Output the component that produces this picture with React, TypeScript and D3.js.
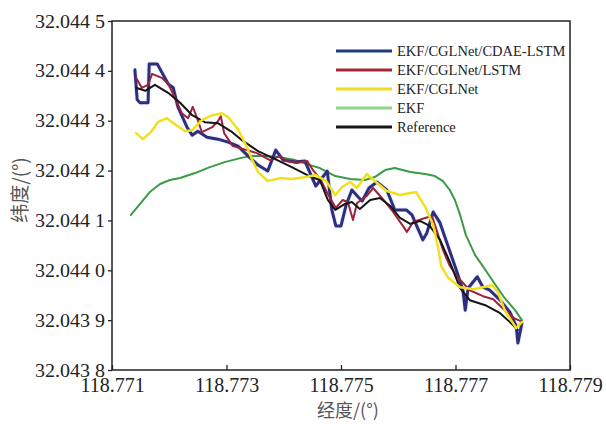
import React, { useRef, useEffect } from "react";
import * as d3 from "d3";

const W = 606;
const H = 424;
const margin = { top: 21, right: 36, bottom: 54, left: 112 };

const xTicks = [118.771, 118.773, 118.775, 118.777, 118.779];
const yTicks = [32.0438, 32.0439, 32.044, 32.0441, 32.0442, 32.0443, 32.0444, 32.0445];
const yTickLabels = ["32.043 8", "32.043 9", "32.044 0", "32.044 1", "32.044 2", "32.044 3", "32.044 4", "32.044 5"];

const seriesNames = ["EKF/CGLNet/CDAE-LSTM", "EKF/CGLNet/LSTM", "EKF/CGLNet", "EKF", "Reference"];

// EKF/CGLNet/CDAE-LSTM
const cdaeLon = [118.7714, 118.77144, 118.77149, 118.77163, 118.77165, 118.77179, 118.77198, 118.77207, 118.77215, 118.77231, 118.7724, 118.7725, 118.77266, 118.77285, 118.77303, 118.7732, 118.77338, 118.77355, 118.77372, 118.77386, 118.77399, 118.7742, 118.77437, 118.77456, 118.77476, 118.77484, 118.77491, 118.775, 118.77509, 118.77519, 118.7753, 118.77537, 118.77549, 118.77563, 118.7758, 118.77594, 118.77614, 118.77624, 118.77633, 118.77643, 118.7765, 118.77661, 118.77673, 118.77685, 118.77703, 118.77713, 118.77717, 118.77722, 118.77738, 118.77748, 118.7776, 118.77778, 118.77795, 118.77806, 118.77809, 118.77816];
const cdaeLat = [32.044402, 32.044342, 32.044336, 32.044336, 32.044414, 32.044414, 32.044374, 32.044366, 32.044328, 32.044287, 32.044271, 32.044279, 32.044267, 32.044263, 32.044257, 32.044249, 32.044229, 32.044211, 32.044199, 32.044241, 32.044221, 32.044217, 32.044219, 32.044169, 32.044199, 32.044121, 32.044089, 32.044089, 32.044131, 32.044161, 32.044147, 32.044139, 32.044165, 32.044177, 32.044161, 32.044121, 32.044121, 32.044111, 32.044087, 32.044061, 32.044075, 32.044117, 32.044095, 32.044055, 32.043995, 32.04396, 32.04392, 32.043964, 32.043987, 32.043966, 32.04396, 32.04394, 32.043916, 32.043888, 32.043854, 32.043894];

// EKF/CGLNet/LSTM
const lstmLon = [118.77142, 118.77152, 118.77163, 118.7717, 118.77187, 118.77198, 118.7721, 118.77222, 118.77233, 118.77241, 118.77248, 118.77257, 118.77275, 118.77285, 118.7729, 118.77296, 118.77311, 118.77336, 118.77353, 118.77376, 118.77393, 118.77406, 118.77423, 118.77441, 118.77451, 118.77463, 118.77477, 118.77491, 118.77503, 118.77512, 118.77521, 118.77528, 118.77545, 118.77556, 118.77573, 118.77591, 118.77608, 118.77615, 118.77626, 118.77647, 118.77659, 118.77668, 118.77678, 118.7769, 118.77703, 118.77725, 118.77748, 118.77766, 118.77786, 118.77802, 118.77814];
const lstmLat = [32.044386, 32.044366, 32.044372, 32.044394, 32.044386, 32.044374, 32.044346, 32.044315, 32.044305, 32.044328, 32.044307, 32.044277, 32.044287, 32.044299, 32.044309, 32.044275, 32.044249, 32.044241, 32.044235, 32.044221, 32.044229, 32.044219, 32.044215, 32.044219, 32.044201, 32.044185, 32.044153, 32.044125, 32.044141, 32.044137, 32.044101, 32.044135, 32.044149, 32.044165, 32.044143, 32.044117, 32.044089, 32.044077, 32.044097, 32.044105, 32.044109, 32.044077, 32.044041, 32.044009, 32.043987, 32.04396, 32.043948, 32.043942, 32.04392, 32.043904, 32.043898];

// EKF/CGLNet
const cglLon = [118.77142, 118.77154, 118.77168, 118.7718, 118.77196, 118.77212, 118.77228, 118.7724, 118.77257, 118.77275, 118.77292, 118.77303, 118.7732, 118.77334, 118.77345, 118.77355, 118.77372, 118.77395, 118.77414, 118.77439, 118.77456, 118.77474, 118.7749, 118.77502, 118.77516, 118.77528, 118.77545, 118.77561, 118.7758, 118.77603, 118.77631, 118.77648, 118.77661, 118.77669, 118.77675, 118.77687, 118.77708, 118.77732, 118.77764, 118.77774, 118.77786, 118.77806, 118.77816];
const cglLat = [32.044275, 32.044263, 32.044277, 32.044297, 32.044305, 32.044291, 32.044279, 32.044281, 32.044301, 32.044311, 32.044315, 32.044307, 32.044283, 32.044251, 32.044221, 32.044197, 32.044179, 32.044185, 32.044183, 32.044187, 32.044191, 32.044179, 32.044151, 32.044167, 32.044177, 32.044165, 32.044193, 32.044177, 32.044159, 32.044151, 32.044157, 32.044125, 32.044091, 32.044049, 32.044009, 32.043985, 32.043966, 32.043962, 32.04397, 32.043956, 32.04392, 32.043884, 32.043896];

// EKF
const ekfLon = [118.77133, 118.77149, 118.77166, 118.77184, 118.77201, 118.77219, 118.77245, 118.77271, 118.77297, 118.77324, 118.77341, 118.77367, 118.77393, 118.7742, 118.77446, 118.77463, 118.7749, 118.77516, 118.77542, 118.77559, 118.77577, 118.77594, 118.77621, 118.77647, 118.77664, 118.77678, 118.7769, 118.77699, 118.77708, 118.77718, 118.77734, 118.77752, 118.77769, 118.77786, 118.77804, 118.77816];
const ekfLat = [32.044111, 32.044133, 32.044157, 32.044173, 32.044181, 32.044185, 32.044195, 32.044207, 32.044217, 32.044225, 32.044229, 32.044229, 32.044227, 32.044221, 32.044211, 32.044205, 32.044189, 32.044183, 32.044181, 32.044187, 32.044201, 32.044205, 32.044197, 32.044193, 32.044189, 32.044179, 32.044161, 32.044141, 32.044111, 32.044071, 32.044031, 32.044001, 32.043972, 32.043944, 32.04392, 32.0439];

// Reference
const refLon = [118.77142, 118.77158, 118.77175, 118.77198, 118.77219, 118.7724, 118.77262, 118.77285, 118.7731, 118.77327, 118.77355, 118.77385, 118.77414, 118.77448, 118.77463, 118.77477, 118.7749, 118.77507, 118.77519, 118.77533, 118.77551, 118.77568, 118.77586, 118.77603, 118.77621, 118.77638, 118.77655, 118.77673, 118.7769, 118.77708, 118.77725, 118.77752, 118.77778, 118.77795, 118.77809];
const refLat = [32.044366, 32.04436, 32.044372, 32.044356, 32.044336, 32.044311, 32.044297, 32.044295, 32.044277, 32.044261, 32.044239, 32.044223, 32.044207, 32.044187, 32.044181, 32.044141, 32.044121, 32.044133, 32.044137, 32.044123, 32.044141, 32.044145, 32.044129, 32.044105, 32.044093, 32.044099, 32.044089, 32.044061, 32.044017, 32.043964, 32.04394, 32.04393, 32.043914, 32.043896, 32.04388];

const lineColors = ["#2e2d7e", "#9e2239", "#f2e01e", "#3b9b44", "#151515"];
const legendColors = ["#213a7a", "#a5283a", "#f2dc22", "#92d38c", "#151515"];
const lineWidths = [3, 2, 2.5, 2, 2];

const App = () => {
  const svgRef = useRef(null);

  useEffect(() => {
    if (!svgRef.current) return;
    const svg = d3.select(svgRef.current);
    svg.selectAll("*").remove();

    const x = d3.scaleLinear().domain([118.771, 118.779]).range([margin.left, W - margin.right]);
    const y = d3.scaleLinear().domain([32.0438, 32.0445]).range([H - margin.bottom, margin.top]);

    const series = [
      { lon: cdaeLon, lat: cdaeLat },
      { lon: lstmLon, lat: lstmLat },
      { lon: cglLon, lat: cglLat },
      { lon: ekfLon, lat: ekfLat },
      { lon: refLon, lat: refLat },
    ].map((s, i) => ({ name: seriesNames[i], pts: s.lon.map((v, j) => [v, s.lat[j]]) }));

    const line = d3
      .line()
      .x((d) => x(d[0]))
      .y((d) => y(d[1]));

    // draw order: EKF, CDAE-LSTM, LSTM, Reference, CGLNet
    const order = [3, 0, 1, 4, 2];
    const plot = svg.append("g");

    // faint light-blue smear under the CDAE-LSTM trace
    plot
      .append("path")
      .attr("d", line(series[0].pts))
      .attr("fill", "none")
      .attr("stroke", "#b4cfee")
      .attr("stroke-width", 5)
      .attr("stroke-opacity", 0.3)
      .attr("stroke-linejoin", "round");

    order.forEach((i) => {
      plot
        .append("path")
        .attr("d", line(series[i].pts))
        .attr("fill", "none")
        .attr("stroke", lineColors[i])
        .attr("stroke-width", lineWidths[i])
        .attr("stroke-linejoin", "round")
        .attr("stroke-linecap", "round");
    });

    // frame
    svg
      .append("rect")
      .attr("x", margin.left)
      .attr("y", margin.top)
      .attr("width", W - margin.left - margin.right)
      .attr("height", H - margin.top - margin.bottom)
      .attr("fill", "none")
      .attr("stroke", "#222")
      .attr("stroke-width", 1.5);

    //Y axis, ticks pointing out
    const yAxis = svg
      .append("g")
      .attr("transform", `translate(${margin.left},0)`)
      .call(
        d3
          .axisLeft(y)
          .tickValues(yTicks)
          .tickSizeInner(4)
          .tickSizeOuter(0)
          .tickPadding(3)
          .tickFormat((d, i) => yTickLabels[i])
      );
    yAxis.select(".domain").remove();
    yAxis.selectAll("line").attr("stroke", "#222").attr("stroke-width", 1.3);
    yAxis
      .selectAll("text")
      .attr("font-family", "'Liberation Serif', 'Times New Roman', serif")
      .attr("font-size", 19)
      .attr("fill", "#222")
      .attr("textLength", 70)
      .attr("lengthAdjust", "spacingAndGlyphs");

    //X axis, ticks pointing in
    const xAxis = svg
      .append("g")
      .attr("transform", `translate(0,${H - margin.bottom})`)
      .call(
        d3
          .axisBottom(x)
          .tickValues(xTicks)
          .tickSizeInner(-5)
          .tickSizeOuter(0)
          .tickPadding(8)
          .tickFormat(d3.format(".3f"))
      );
    xAxis.select(".domain").remove();
    xAxis.selectAll("line").attr("stroke", "#222").attr("stroke-width", 1.3);
    xAxis
      .selectAll("text")
      .attr("font-family", "'Liberation Serif', 'Times New Roman', serif")
      .attr("font-size", 20)
      .attr("fill", "#222");

    // axis titles
    svg
      .append("text")
      .attr("x", 348)
      .attr("y", 417)
      .attr("text-anchor", "middle")
      .attr("font-family", "'Noto Sans CJK SC', sans-serif")
      .attr("font-size", 18)
      .attr("fill", "#555")
      .text("经度/(°)");

    svg
      .append("text")
      .attr("transform", "translate(27,190) rotate(-90)")
      .attr("text-anchor", "middle")
      .attr("font-family", "'Noto Sans CJK SC', sans-serif")
      .attr("font-size", 19)
      .attr("fill", "#555")
      .text("纬度/(°)");

    // legend
    const legend = svg.append("g").attr("transform", "translate(336,51)");
    seriesNames.forEach((name, i) => {
      const row = legend.append("g").attr("transform", `translate(0,${i * 19})`);
      row
        .append("line")
        .attr("x1", 0)
        .attr("x2", 56)
        .attr("y1", 0)
        .attr("y2", 0)
        .attr("stroke", legendColors[i])
        .attr("stroke-width", 3);
      row
        .append("text")
        .attr("x", 61)
        .attr("y", 0)
        .attr("dy", "0.35em")
        .attr("font-family", "'Liberation Serif', 'Times New Roman', serif")
        .attr("font-size", 14.5)
        .attr("fill", "#222")
        .text(name);
    });
  }, []);

  return (
    <svg
      ref={svgRef}
      width={W}
      height={H}
      style={{ position: "absolute", left: 0, top: 0, background: "#fff" }}
    />
  );
};

export default App;
